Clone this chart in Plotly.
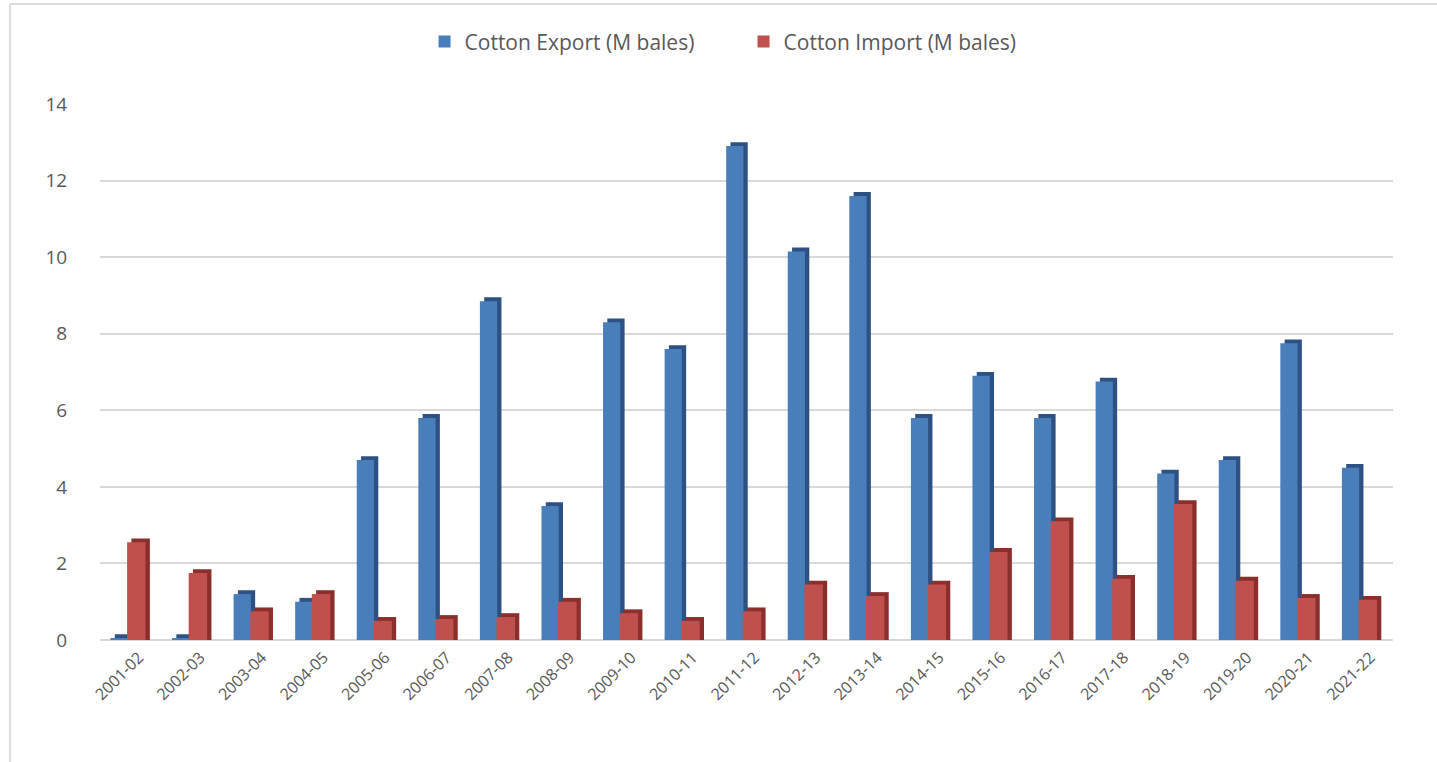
import plotly.graph_objects as go

seasons = ["2001-02", "2002-03", "2003-04", "2004-05", "2005-06", "2006-07", "2007-08",
           "2008-09", "2009-10", "2010-11", "2011-12", "2012-13", "2013-14", "2014-15",
           "2015-16", "2016-17", "2017-18", "2018-19", "2019-20", "2020-21", "2021-22"]
exports = [0.05, 0.05, 1.2, 1.0, 4.7, 5.8, 8.85, 3.5, 8.3, 7.6, 12.9, 10.15, 11.6,
           5.8, 6.9, 5.8, 6.75, 4.35, 4.7, 7.75, 4.5]
imports = [2.55, 1.75, 0.75, 1.2, 0.5, 0.55, 0.6, 1.0, 0.7, 0.5, 0.75, 1.45, 1.15,
           1.45, 2.3, 3.1, 1.6, 3.55, 1.55, 1.1, 1.05]

y_ticks = [0, 2, 4, 6, 8, 10, 12, 14]

FONT = "Open Sans"
GREY = "#595959"
DEPTH = 0.1

fig = go.Figure()

def add_series(name, values, front, side, offset, width):
    # darker side strip (3D look)
    fig.add_trace(go.Bar(
        x=seasons, y=[v + DEPTH for v in values], offset=offset + 0.07, width=width,
        marker=dict(color=side, line=dict(width=0)), showlegend=False, hoverinfo="skip"))
    fig.add_trace(go.Bar(
        x=seasons, y=values, name=name, offset=offset, width=width,
        marker=dict(color=front, line=dict(width=0))))

add_series("Cotton Export (M bales)", exports, "#4a7ebb", "#2d5183", -0.33, 0.28)
add_series("Cotton Import (M bales)", imports, "#c0504d", "#8a2f2c", -0.06, 0.30)

fig.update_layout(
    width=1437, height=762,
    barmode="overlay",
    paper_bgcolor="white", plot_bgcolor="white",
    margin=dict(l=100, r=44, t=104, b=122),
    font=dict(family=FONT, color=GREY),
    legend=dict(orientation="h", x=0.251, xanchor="left", y=1.116, yanchor="middle",
                font=dict(size=21, color=GREY, family=FONT), traceorder="normal",
                itemwidth=30, entrywidth=274, entrywidthmode="pixels"),
    xaxis=dict(type="category", tickangle=-45, tickfont=dict(size=16, color=GREY),
               showgrid=False, showline=False, ticks="", range=[-0.5, 20.5],
               ticklabelshift=8, ticklabelstandoff=4),
    yaxis=dict(range=[0, 14], tickvals=y_ticks, tickfont=dict(size=19, color=GREY),
               showgrid=True, gridcolor="#d9d9d9", gridwidth=1.5,
               zeroline=True, zerolinecolor="#d9d9d9", zerolinewidth=1.5,
               ticks="outside", ticklen=28, tickcolor="white", showline=False),
    shapes=[
        dict(type="line", xref="paper", yref="paper", x0=-0.0696, x1=1.1, y0=1.1866, y1=1.1866,
             line=dict(color="#d0d0d0", width=1.5)),
        dict(type="line", xref="paper", yref="paper", x0=-0.0696, x1=-0.0696, y0=1.1866, y1=-0.3,
             line=dict(color="#d0d0d0", width=1.5)),
    ],
)

fig.write_html("out.html")
